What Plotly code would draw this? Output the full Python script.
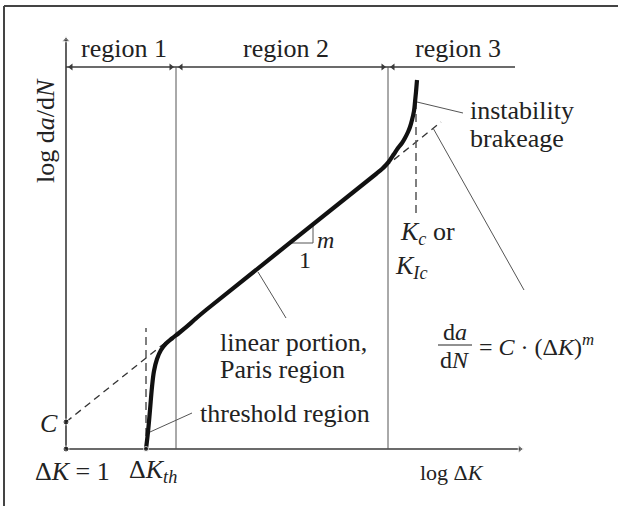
import plotly.graph_objects as go

# ---- data (schematic units: origin at the axes crossing, 1 unit ~ 1 px) ----
# crack growth curve: log dK (x) vs log da/dN (y)
curve_x = [80, 82, 84, 86, 88, 91, 95, 100, 106, 113, 121, 130, 140,
           310, 316, 320, 324, 328, 332, 336, 339, 342, 344, 346, 348, 349, 350, 351]
curve_y = [0, 17, 39, 62, 78, 90, 99, 105.5, 110.5, 116, 122.6, 130.6, 139,
           275, 280, 284, 289, 295, 301, 306, 311, 317, 322, 329, 338, 347, 357, 369]

# Paris law extension (dashed): from C on the y axis
paris_x = [0, 375]
paris_y = [27, 327]

dk_th = 80          # threshold dK position
k_c = 350           # critical K position
dk_th_dash = [0, 121]
k_c_dash = [236, 366]

region_bounds = [110, 322]
region_top = 382
region_end = 449
axis_x_end = 454
axis_y_end = 409
region_names = ["region 1", "region 2", "region 3"]
region_centers = [58, 220, 392]

# slope triangle
tri_x = [224, 247, 247]
tri_y = [206, 206, 224.6]

FONT = "Liberation Serif"
INK = "#222222"
AX = "#3a3a3a"
THIN = "#555555"

fig = go.Figure()

def line(xs, ys, color=THIN, width=1, dash=None, shape="linear"):
    fig.add_trace(go.Scatter(x=xs, y=ys, mode="lines",
                             line=dict(color=color, width=width, dash=dash, shape=shape),
                             hoverinfo="skip", showlegend=False))

# frame (top & left)
line([-62, 560], [443, 443], color="#444444", width=2)
line([-62, -62], [443, -70], color="#444444", width=2)

# axes
line([0, 0], [0, axis_y_end], color=AX, width=1.6)
line([0, axis_x_end], [0, 0], color=AX, width=1.6)
fig.add_trace(go.Scatter(x=[0], y=[axis_y_end], mode="markers",
                         marker=dict(symbol="triangle-up", size=[7], color=AX),
                         hoverinfo="skip", showlegend=False))
fig.add_trace(go.Scatter(x=[axis_x_end], y=[0], mode="markers",
                         marker=dict(symbol="triangle-right", size=[7], color=AX),
                         hoverinfo="skip", showlegend=False))

# region lines
line([0, region_end], [region_top, region_top], color=AX, width=1.6)
for b in region_bounds:
    line([b, b], [0, region_top], color=THIN, width=1)
fig.add_trace(go.Scatter(x=[5, region_bounds[0] - 5, region_bounds[1] - 5],
                         y=[region_top] * 3, mode="markers",
                         marker=dict(symbol=["triangle-left", "triangle-right", "triangle-right"],
                                     size=6, color=AX),
                         hoverinfo="skip", showlegend=False))
fig.add_trace(go.Scatter(x=[region_bounds[0] + 5, region_bounds[1] + 5],
                         y=[region_top] * 2, mode="markers",
                         marker=dict(symbol="triangle-left", size=6, color=AX),
                         hoverinfo="skip", showlegend=False))

# dashed guide lines
line(paris_x, paris_y, color="#333333", width=1.3, dash="7px,5px")
line([dk_th, dk_th], dk_th_dash, color="#555555", width=1.5, dash="8px,5px")
line([k_c, k_c], k_c_dash, color="#555555", width=1.5, dash="8px,5px")

# slope triangle
line(tri_x, tri_y, color=THIN, width=1)

# leader lines
line([351, 397], [347, 336])       # instability
line([367, 458], [321, 159])       # formula
line([192, 220], [177, 131])       # Paris
line([84, 126], [17, 36])          # threshold

# main curve
line(curve_x, curve_y, color="#111111", width=4.2, shape="spline")

# points
fig.add_trace(go.Scatter(x=[0, 0, dk_th], y=[27, 0, 0], mode="markers",
                         marker=dict(size=[6, 6, 5], color="#111111"),
                         hoverinfo="skip", showlegend=False))

ann = []
def text(x, y, s, size=26, xanchor="center", angle=0):
    ann.append(dict(x=x, y=y, xref="x", yref="y", text=s, showarrow=False,
                    xanchor=xanchor, yanchor="middle", textangle=angle,
                    font=dict(family=FONT, size=size, color=INK)))

for name, cx in zip(region_names, region_centers):
    text(cx, 401, name)
text(-21, 318, "log d<i>a</i>/d<i>N</i>", angle=-90)
text(-17, 26, "<i>C</i>")
text(6, -22, "Δ<i>K</i> = 1")
text(87, -22, "Δ<i>K<sub>th</sub></i>")
text(386, -23, "log Δ<i>K</i>", size=22)
text(132, 36, "threshold region", xanchor="left")
text(152, 107, "linear portion,", xanchor="left")
text(152, 80, "Paris region", xanchor="left")
text(259, 209, "<i>m</i>", size=24)
text(239, 189, "1", size=24)
text(332, 216, "<i>K<sub>c</sub></i> or", xanchor="left")
text(327, 182, "<i>K<sub>Ic</sub></i>", xanchor="left")
text(402, 339, "instability", xanchor="left")
text(402, 311, "brakeage", xanchor="left")
# Paris law formula
text(389, 117, "d<i>a</i>", size=24)
text(389, 89, "d<i>N</i>", size=24)
line([372, 406], [104, 104], color=INK, width=1)
text(411, 104, "= <i>C</i> · (Δ<i>K</i>)<sup><i>m</i></sup>", size=24, xanchor="left")

fig.update_layout(
    width=618, height=506,
    margin=dict(l=0, r=0, t=0, b=0),
    plot_bgcolor="white", paper_bgcolor="white",
    xaxis=dict(range=[-66, 552], visible=False, fixedrange=True),
    yaxis=dict(range=[-57, 449], visible=False, fixedrange=True),
    annotations=ann,
    showlegend=False,
)

fig.write_html("out.html", config={"displayModeBar": False},
               post_script="document.body.style.margin='0';document.body.style.overflow='hidden';")
